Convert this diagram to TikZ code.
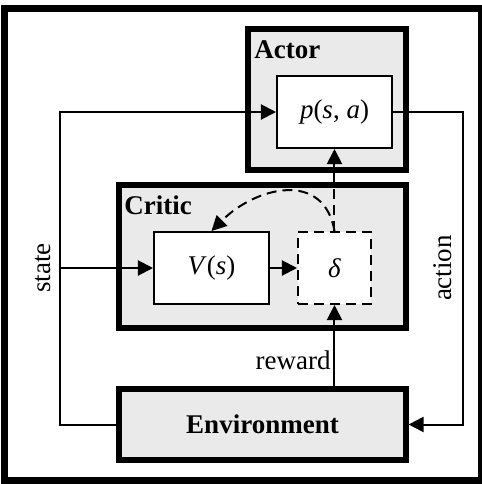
\documentclass[tikz,border=0pt]{standalone}
\usepackage{fontspec}
\setmainfont{Liberation Serif}
\usepackage{tikz}
\usepackage{xcolor}
\usetikzlibrary{arrows.meta}

\definecolor{blockgray}{RGB}{234,234,234}

\begin{document}
\begin{tikzpicture}[x=0.5pt, y=-0.5pt,
		txt/.style={font=\fontsize{13.5}{16}\selectfont},
		block/.style={draw, fill=blockgray, line width=2.6pt, inner sep=0pt},
		unit/.style={draw, fill=white, line width=1pt, inner sep=0pt, minimum width=57.5pt, minimum height=36pt, txt},
		tdline/.style={dash pattern=on 5pt off 3pt},
		conn/.style={line width=1pt, -{Triangle[length=7.5pt, width=7.5pt]}}]
				\useasboundingbox (0,0) rectangle (482,484);
				\draw[line width=3.5pt] (5,8) rectangle (482,480);
				% blocks
				\node[block, minimum width=79pt, minimum height=70.5pt] (actor) at (327, 99.5) {};
				\node[block, minimum width=143.5pt, minimum height=71.5pt] (critic) at (262.5, 256.5) {};
				\node[block, minimum width=143.5pt, minimum height=35.5pt, txt, font=\fontsize{13.5}{16}\selectfont\bfseries] (env) at (262.5, 424.5) {Environment};
				\node[txt, font=\fontsize{13.5}{16}\selectfont\bfseries, anchor=west, inner sep=0pt] (actorlbl) at (254, 50) {Actor};
				\node[txt, font=\fontsize{13.5}{16}\selectfont\bfseries, anchor=west, inner sep=0pt] (criticlbl) at (124, 205) {Critic};
				% units
				\node[unit] (policy) at (334.5, 112) {\textit{p}(\textit{s}, \textit{a})};
				\node[unit] (value) at (211.5, 268) {\textit{V}(\textit{s})};
				\node[unit, tdline, minimum width=36.5pt] (tderr) at (334.5, 268) {\textit{δ}};
				% buses
				\coordinate (sbus) at (60, 268);
				\coordinate (abus) at (463, 268);
				\draw[conn] (env.west) -| (sbus) |- (policy.west);
				\draw[conn] (sbus) -- (value.west);
				\draw[conn] (policy.east) -| (abus) |- (env.east);
				\draw[conn] (value.east) -- (tderr.west);
				\draw[conn] (env.north -| tderr) -- (tderr.south);
				\draw[line width=1pt, tdline] (tderr.north) -- (tderr.north |- critic.north);
				\draw[conn] (tderr.north |- critic.north) -- (policy.south);
				\draw[conn, tdline] (tderr.north) to[out=100, in=45, looseness=1.3] (value.north);
				% labels
				\node[txt, rotate=90] (statelbl) at (43, 268) {state};
				\node[txt, rotate=90] (actionlbl) at (443, 268) {action};
				\node[txt, anchor=east, inner sep=0pt] (rewardlbl) at (331, 360) {reward};
			\end{tikzpicture}
\end{document}
